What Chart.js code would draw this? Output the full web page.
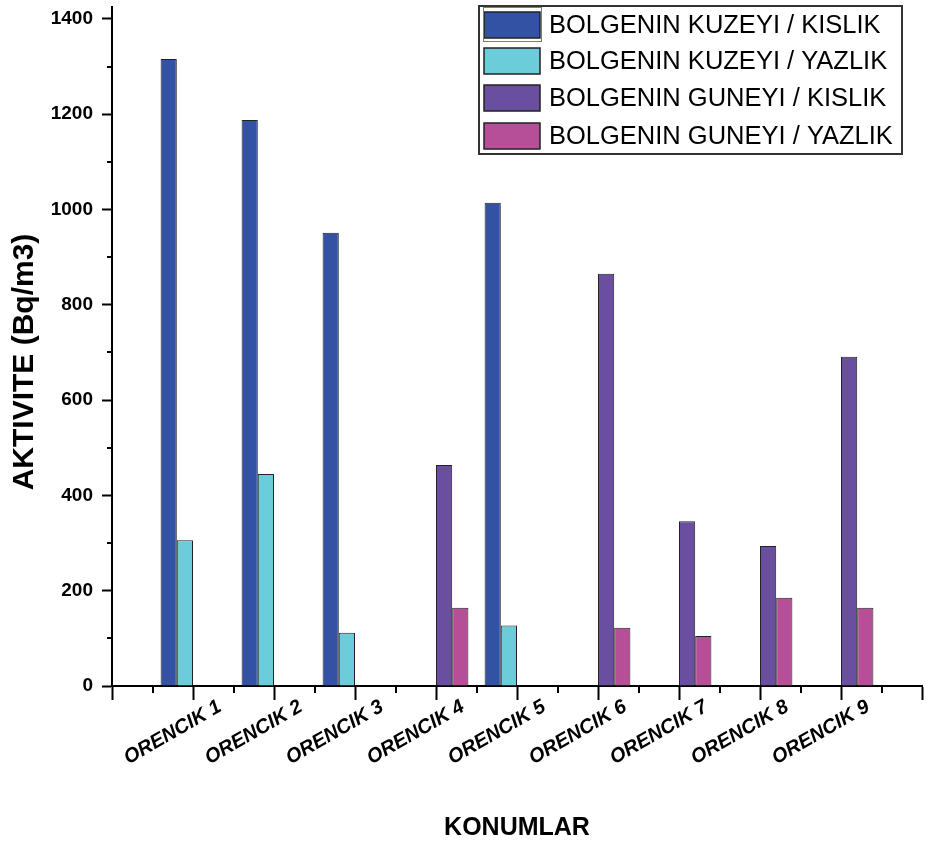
<!DOCTYPE html>
<html>
<head>
<meta charset="utf-8">
<script src="https://cdn.jsdelivr.net/npm/chart.js@4.4.0/dist/chart.umd.min.js"></script>
<style>
  html, body { margin: 0; padding: 0; background: #fff; }
  #wrap { width: 950px; height: 845px; }
</style>
</head>
<body>
<div id="wrap"><canvas id="barChart"></canvas></div>
<script>
// values
const locations = ['ORENCIK 1', 'ORENCIK 2', 'ORENCIK 3', 'ORENCIK 4', 'ORENCIK 5',
                   'ORENCIK 6', 'ORENCIK 7', 'ORENCIK 8', 'ORENCIK 9'];
const northWinter = [1316, 1188, 951, null, 1014, null, null, null, null];
const northSummer = [306, 445, 112, null, 127, null, null, null, null];
const southWinter = [null, null, null, 464, null, 865, 346, 294, 691];
const southSummer = [null, null, null, 164, null, 122, 105, 185, 164];
const yTicks = [0, 200, 400, 600, 800, 1000, 1200, 1400];
const yMinorTicks = [100, 300, 500, 700, 900, 1100, 1300];
const yTop = 1425;
const yTitle = 'AKTIVITE (Bq/m3)';

// empty slot at each end of the axis, like the original plot
const labels = [''].concat(locations, ['']);
const pad = arr => [null].concat(arr, [null]);

Chart.defaults.font.family = "'Liberation Sans', Arial, sans-serif";
Chart.defaults.color = '#000';

// minor ticks, y title and boxed legend
const extras = {
  id: 'extras',
  afterDraw(chart) {
    const ctx = chart.ctx;
    const x = chart.scales.x, y = chart.scales.y;
    ctx.save();
    ctx.strokeStyle = '#000';
    ctx.lineWidth = 2;
    ctx.beginPath();
    yMinorTicks.forEach(v => {
      const py = Math.round(y.getPixelForValue(v));
      ctx.moveTo(x.left - 5, py);
      ctx.lineTo(x.left, py);
    });
    for (let i = 0; i < labels.length - 1; i++) {
      const px = Math.round(x.getPixelForValue(i + 0.5));
      ctx.moveTo(px, y.bottom);
      ctx.lineTo(px, y.bottom + 7);
    }
    ctx.stroke();

    // y axis title
    ctx.save();
    ctx.translate(25, 362);
    ctx.rotate(-Math.PI / 2);
    ctx.font = "bold 30px 'Liberation Sans', Arial, sans-serif";
    ctx.textAlign = 'center';
    ctx.textBaseline = 'middle';
    ctx.fillStyle = '#000';
    ctx.fillText(yTitle, 0, 0);
    ctx.restore();

    // legend
    ctx.lineWidth = 2;
    ctx.strokeStyle = '#333';
    ctx.strokeRect(479, 6, 423, 148);
    const rowTops = [12, 48, 85, 123];
    ctx.font = "25.5px 'Liberation Sans', Arial, sans-serif";
    ctx.textBaseline = 'middle';
    ctx.textAlign = 'left';
    chart.data.datasets.forEach((ds, i) => {
      const top = rowTops[i];
      ctx.fillStyle = ds.backgroundColor;
      ctx.fillRect(484, top, 56, 26);
      ctx.lineWidth = 1.5;
      ctx.strokeStyle = '#222';
      ctx.strokeRect(484, top, 56, 26);
      ctx.fillStyle = '#000';
      ctx.fillText(ds.label, 549, top + 14);
    });
    // thin red selection frame around the first key
    ctx.strokeStyle = '#e05050';
    ctx.lineWidth = 1;
    ctx.strokeRect(483.5, 7.5, 58, 34);
    ctx.restore();
  }
};

const ctx = document.getElementById('barChart').getContext('2d');

const chart = new Chart(ctx, {
  type: 'bar',
  data: {
    labels: labels,
    datasets: [
      { label: 'BOLGENIN KUZEYI / KISLIK', data: pad(northWinter), backgroundColor: '#3452A4' },
      { label: 'BOLGENIN KUZEYI / YAZLIK', data: pad(northSummer), backgroundColor: '#6BCDDA' },
      { label: 'BOLGENIN GUNEYI / KISLIK', data: pad(southWinter), backgroundColor: '#6A4FA0' },
      { label: 'BOLGENIN GUNEYI / YAZLIK', data: pad(southSummer), backgroundColor: '#B64F98' }
    ]
  },
  options: {
    responsive: true,
    maintainAspectRatio: false,
    animation: false,
    layout: { padding: { top: 7, right: 28, bottom: 0, left: 0 } },
    datasets: {
      bar: {
        borderColor: '#222',
        borderWidth: 1,
        categoryPercentage: 0.8,
        barPercentage: 1.0
      }
    },
    plugins: {
      legend: { display: false },
      tooltip: { enabled: false }
    },
    scales: {
      x: {
        offset: false,
        grid: { offset: false, drawOnChartArea: false, drawTicks: true, tickLength: 14, tickWidth: 2, tickColor: '#000' },
        border: { display: true, color: '#000', width: 2 },
        ticks: {
          autoSkip: false,
          minRotation: 30,
          maxRotation: 30,
          padding: -5,
          labelOffset: 27,
          font: { size: 20, weight: 'bold', style: 'italic' }
        },
        title: {
          display: true,
          text: 'KONUMLAR',
          font: { size: 25, weight: 'bold' },
          padding: { top: 0, bottom: 2 }
        },
        afterFit(scale) {
          scale.height = 159;
          scale.paddingLeft = 0;
          scale.paddingRight = 0;
        }
      },
      y: {
        min: 0,
        max: yTop,
        afterBuildTicks(scale) {
          scale.ticks = yTicks.map(v => ({ value: v }));
        },
        grid: { drawOnChartArea: false, drawTicks: true, tickLength: 10, tickWidth: 2, tickColor: '#000' },
        border: { display: true, color: '#000', width: 2 },
        ticks: {
          padding: 9,
          font: { size: 19, weight: 'bold' },
          callback: v => String(v)
        },
        title: { display: false },
        afterFit(scale) {
          scale.width = 112;
          scale.paddingTop = 0;
          scale.paddingBottom = 0;
        }
      }
    }
  },
  plugins: [extras]
});
</script>
</body>
</html>
